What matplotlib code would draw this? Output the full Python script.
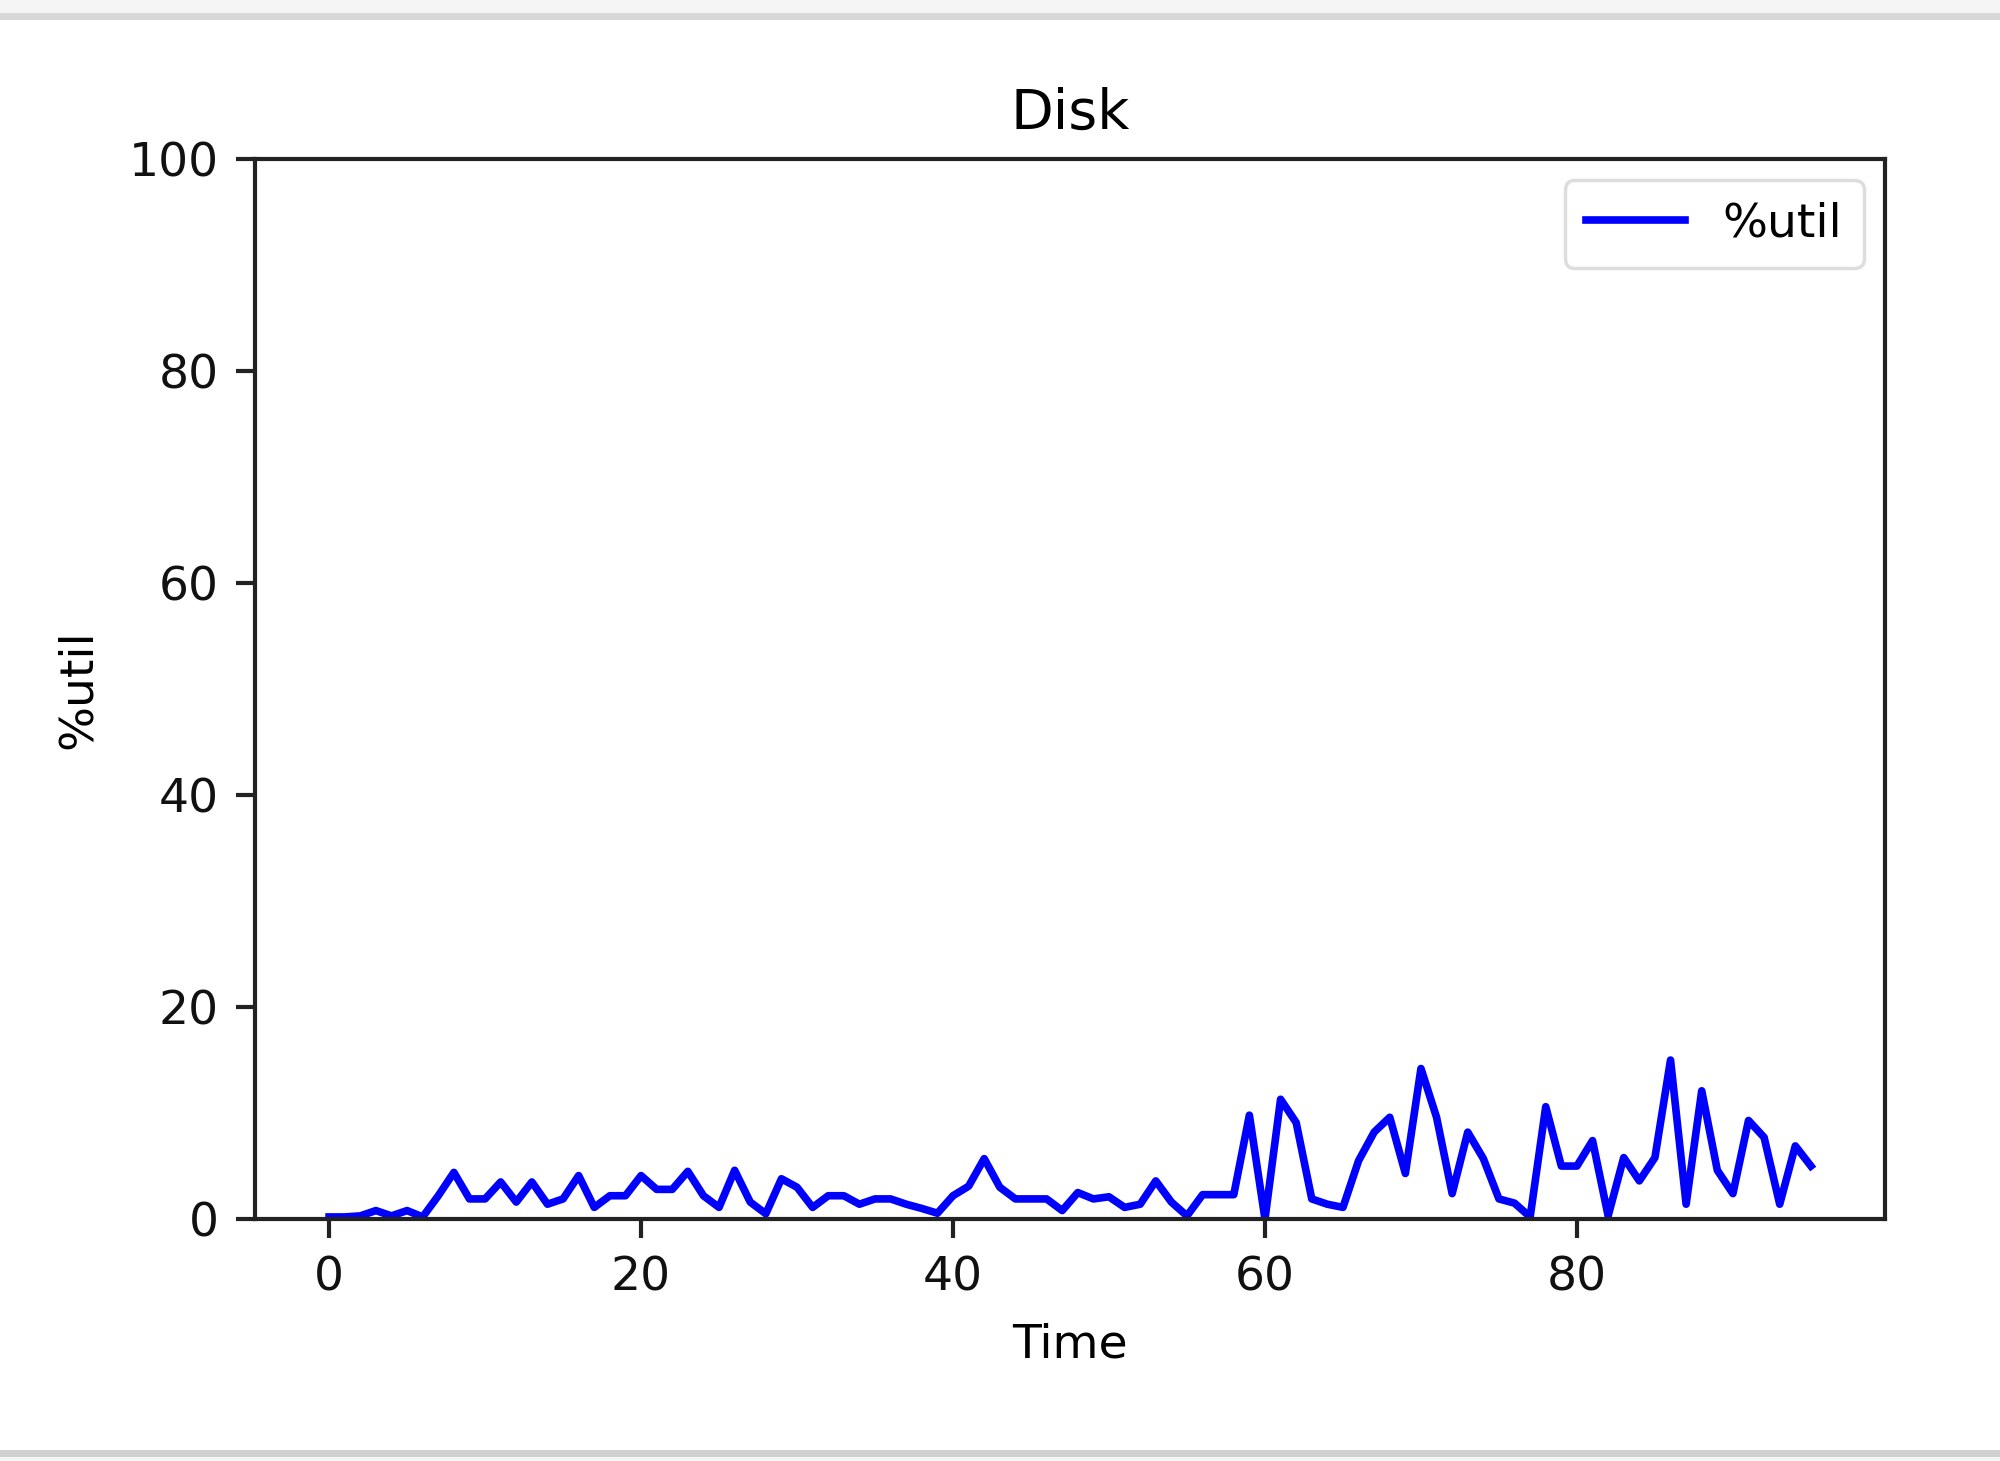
import matplotlib
matplotlib.use("Agg")
import matplotlib.pyplot as plt
from matplotlib.lines import Line2D
from matplotlib.patches import Rectangle

title = "Disk"
xlabel = "Time"
ylabel = "%util"
series_name = "%util"
util = [0.2, 0.2, 0.3, 0.8, 0.3, 0.8, 0.2, 2.2, 4.4, 1.9,
        1.9, 3.5, 1.6, 3.5, 1.4, 1.9, 4.1, 1.1, 2.2, 2.2,
        4.1, 2.8, 2.8, 4.5, 2.2, 1.1, 4.6, 1.6, 0.5, 3.8,
        3.0, 1.1, 2.2, 2.2, 1.4, 1.9, 1.9, 1.4, 1.0, 0.55,
        2.2, 3.1, 5.7, 3.0, 1.9, 1.9, 1.9, 0.8, 2.5, 1.9,
        2.1, 1.1, 1.4, 3.6, 1.6, 0.3, 2.3, 2.3, 2.3, 9.8,
        0.0, 11.3, 9.1, 1.9, 1.4, 1.1, 5.5, 8.2, 9.6, 4.3,
        14.2, 9.6, 2.4, 8.2, 5.7, 1.9, 1.5, 0.2, 10.6, 5.0,
        5.0, 7.4, 0.3, 5.8, 3.6, 5.8, 15.0, 1.4, 12.1, 4.6,
        2.4, 9.3, 7.7, 1.4, 6.9, 5.0]
time = list(range(len(util)))
yticks = [0, 20, 40, 60, 80, 100]
xticks = [0, 20, 40, 60, 80]

plt.rcParams['font.family'] = ['DejaVu Sans']
fig = plt.figure(figsize=(20, 14.61), dpi=100)
fig.patch.set_facecolor('white')

# screenshot frame bands
fig.add_artist(Rectangle((0, 1 - 13/1461), 1, 13/1461, transform=fig.transFigure,
                         facecolor='#f5f5f5', edgecolor='none'))
fig.add_artist(Line2D([0, 1], [1 - 16/1461, 1 - 16/1461], transform=fig.transFigure,
                      color='#d8d8d8', lw=5))
fig.add_artist(Line2D([0, 1], [1 - 1453/1461, 1 - 1453/1461], transform=fig.transFigure,
                      color='#d0d0d0', lw=5))
fig.add_artist(Rectangle((0, 0), 1, 6/1461, transform=fig.transFigure,
                         facecolor='#f5f5f5', edgecolor='none'))

ax = fig.add_axes([0.1275, 0.1656, 0.815, 0.7256])
ax.plot(time, util, color='blue', lw=5.5, label=series_name)
ax.set_ylim(0, 100)
ax.set_yticks(yticks)
ax.set_xticks(xticks)
ax.set_title(title, fontsize=40, pad=22)
ax.set_xlabel(xlabel, fontsize=34, labelpad=16)
ax.set_ylabel(ylabel, fontsize=34, labelpad=20)
ax.tick_params(labelsize=34, length=14, width=3, pad=12, color='#222222',
               labelcolor='#111111')
for sp in ax.spines.values():
    sp.set_linewidth(3)
    sp.set_color('#222222')
leg = ax.legend(loc='upper right', fontsize=34, handlelength=2.1, borderpad=0.45,
                handletextpad=0.8, framealpha=1, borderaxespad=0.45)
leg.get_frame().set_edgecolor('#dddddd')
leg.get_frame().set_linewidth(2.5)

fig.savefig("out.png", dpi=100)
